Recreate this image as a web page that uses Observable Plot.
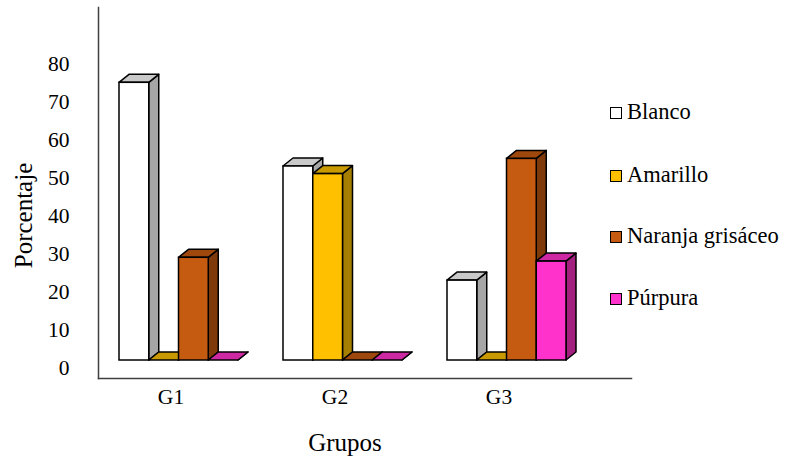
<!DOCTYPE html>
<html>
<head>
<meta charset="utf-8">
<script src="https://cdn.jsdelivr.net/npm/d3@7"></script>
<script src="https://cdn.jsdelivr.net/npm/@observablehq/plot@0.6"></script>
<style>
  html, body { margin: 0; padding: 0; background: #fff; font-family: "Liberation Serif", "Times New Roman", serif; }
  #wrap { position: relative; width: 792px; height: 457px; font-family: "Liberation Serif", "Times New Roman", serif; }
  #legend { position: absolute; left: 610px; top: 0; }
  .item { position: absolute; left: 0; white-space: nowrap; font-family: "Liberation Serif", "Times New Roman", serif; font-size: 22.5px; line-height: 24px; color: #000; display: flex; align-items: center; }
  .sw { width: 10px; height: 10px; border: 1.6px solid #000; margin-right: 5px; margin-top: 2px; }
</style>
</head>
<body>
<div id="wrap"><div id="legend"></div></div>
<script>
// ---- data ----
const groups = ["G1", "G2", "G3"];
const series = ["Blanco", "Amarillo", "Naranja grisáceo", "Púrpura"];
const blanco   = [73, 51, 21];
const amarillo = [0, 49, 0];
const naranja  = [27, 0, 53];
const purpura  = [0, 0, 26];
const yTicks = [0, 10, 20, 30, 40, 50, 60, 70, 80];
const xTitle = "Grupos";
const yTitle = "Porcentaje";

// ---- style ----
const FONT = "'Liberation Serif', 'Times New Roman', serif";
const frontColors = ["#ffffff", "#ffc000", "#c55a11", "#ff33cc"];
const topColors   = ["#c9c9c9", "#c99a00", "#9e480e", "#cc29a3"];
const sideColors  = ["#a6a6a6", "#a67f00", "#7f3a0c", "#a3207f"];

const seriesValues = [blanco, amarillo, naranja, purpura];
const rows = [];
groups.forEach((g, gi) => series.forEach((s, si) => rows.push({group: g, series: s, si, value: seriesValues[si][gi]})));

const DX = 10, DY = 8;
const NS = "http://www.w3.org/2000/svg";
function poly(points, fill) {
  const p = document.createElementNS(NS, "polygon");
  p.setAttribute("points", points.map(d => d.join(",")).join(" "));
  p.setAttribute("fill", fill);
  p.setAttribute("stroke", "#000");
  p.setAttribute("stroke-width", 1.5);
  p.setAttribute("stroke-linejoin", "round");
  return p;
}

const chart = Plot.plot({
  width: 792,
  height: 457,
  marginLeft: 98,
  marginRight: 161,
  marginTop: 7,
  marginBottom: 79,
  style: { fontFamily: FONT, background: "transparent", overflow: "visible" },
  x: { domain: groups, paddingInner: 0.2718, paddingOuter: 0.253, align: 0.24 },
  y: { domain: [-4.73, 92.8] },
  color: { domain: series, range: frontColors },
  marks: [
    Plot.barY(rows, {
      x: "group", y1: 0, y2: "value", fill: "series",
      stroke: "#000", strokeWidth: 1.5,
      render(index, scales, values, dimensions, context, next) {
        const g = next(index, scales, values, dimensions, context);
        const rects = Array.from(g.querySelectorAll("rect"));
        rects.forEach((r, k) => {
          const row = rows[index[k]];
          const bw = +r.getAttribute("width") / series.length;
          const x = +r.getAttribute("x") + row.si * bw;
          const y = +r.getAttribute("y");
          const h = +r.getAttribute("height");
          r.setAttribute("x", x);
          r.setAttribute("width", bw);
          const side = poly([[x + bw, y], [x + bw + DX, y - DY], [x + bw + DX, y + h - DY], [x + bw, y + h]], sideColors[row.si]);
          const top = poly([[x, y], [x + bw, y], [x + bw + DX, y - DY], [x + DX, y - DY]], topColors[row.si]);
          r.parentNode.insertBefore(side, r);
          r.parentNode.insertBefore(top, r);
        });
        return g;
      }
    }),
    Plot.frame({ anchor: "left", stroke: "#404040", strokeWidth: 1.5 }),
    Plot.frame({ anchor: "bottom", stroke: "#404040", strokeWidth: 1.5 }),
    Plot.axisY({ ticks: yTicks, tickSize: 0, tickPadding: 29, fontSize: 21.5, fontFamily: FONT, fill: "#000", dy: 7.7, label: null, tickFormat: d => String(d) }),
    Plot.axisX({ tickSize: 0, tickPadding: 10, fontSize: 21.5, fontFamily: FONT, fill: "#000", dx: -8, label: null }),
    Plot.text([yTitle], { text: d => d, frameAnchor: "left", textAnchor: "middle", lineAnchor: "middle", rotate: -90, dx: -75, dy: 22.5, fontSize: 25, fontFamily: FONT, fill: "#000" }),
    Plot.text([xTitle], { text: d => d, frameAnchor: "bottom", textAnchor: "middle", lineAnchor: "middle", dx: -20, dy: 64, fontSize: 25, fontFamily: FONT, fill: "#000" })
  ]
});
document.getElementById("wrap").prepend(chart);

// ---- legend (HTML) ----
const legendTops = [112, 175, 236, 298];
const legend = document.getElementById("legend");
series.forEach((s, i) => {
  const item = document.createElement("div");
  item.className = "item";
  item.style.top = (legendTops[i] - 12) + "px";
  const sw = document.createElement("span");
  sw.className = "sw";
  sw.style.background = frontColors[i];
  const t = document.createElement("span");
  t.textContent = s;
  item.append(sw, t);
  legend.append(item);
});
</script>
</body>
</html>
